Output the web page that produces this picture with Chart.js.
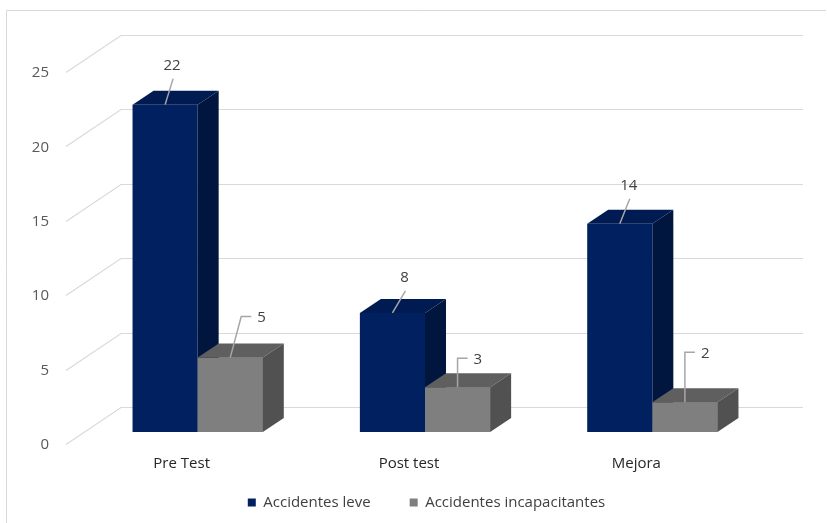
<!DOCTYPE html>
<html>
<head>
<meta charset="utf-8">
<title>Accidentes</title>
<script src="https://cdn.jsdelivr.net/npm/chart.js@4.4.1/dist/chart.umd.min.js"></script>
<style>
  html, body { margin: 0; padding: 0; background: #fff; }
  #wrap { width: 827px; height: 523px; }
</style>
</head>
<body>
<div id="wrap"><canvas id="chart"></canvas></div>
<script>
var categories = ['Pre Test', 'Post test', 'Mejora'];
var leves = [22, 8, 14];
var incapacitantes = [5, 3, 2];
var yMax = 25;
var yStep = 5;

// fake 3d: offsets of bar depth, back wall and floor front edge (px)
var depth = { barDx: 21, barDy: -14, wallDx: 37, wallDy: -25, floorDx: -18, floorDy: 12 };
var faceColors = [
    { top: '#001a52', side: '#00163f' },
    { top: '#5f5f5f', side: '#515151' }
];
// leader lines of the value labels: [dx, dy] from the bar top
var calloutLeves = [[8, 26], [13, 22], [10, 25]];
var calloutIncap = [[11, 41], [0, 29], [0, 50]];

function poly(ctx, pts, color) {
    ctx.beginPath();
    ctx.moveTo(pts[0][0], pts[0][1]);
    for (var i = 1; i < pts.length; i++) ctx.lineTo(pts[i][0], pts[i][1]);
    ctx.closePath();
    ctx.fillStyle = color;
    ctx.fill();
}

var backWall = {
    id: 'backWall',
    beforeDraw: function(chart) {
        var ctx = chart.ctx;
        ctx.save();
        ctx.strokeStyle = '#d9d9d9';
        ctx.lineWidth = 1;
        ctx.beginPath();
        ctx.moveTo(6.5, 523);
        ctx.lineTo(6.5, 10.5);
        ctx.lineTo(826, 10.5);
        ctx.stroke();
        ctx.restore();
    },
    beforeDatasetsDraw: function(chart) {
        var ctx = chart.ctx;
        var y = chart.scales.y;
        var area = chart.chartArea;
        ctx.save();
        ctx.strokeStyle = '#d9d9d9';
        ctx.lineWidth = 1.2;
        y.ticks.forEach(function(t) {
            var py = Math.round(y.getPixelForValue(t.value)) + 0.5;
            ctx.beginPath();
            ctx.moveTo(area.left + depth.floorDx, py + depth.floorDy);
            ctx.lineTo(area.left + depth.wallDx, py + depth.wallDy);
            ctx.lineTo(area.right + depth.wallDx, py + depth.wallDy);
            ctx.stroke();
        });
        ctx.restore();
    }
};

var boxes = {
    id: 'boxes',
    afterDatasetsDraw: function(chart) {
        var ctx = chart.ctx;
        ctx.save();
        chart.data.datasets.forEach(function(ds, di) {
            var meta = chart.getDatasetMeta(di);
            meta.data.forEach(function(bar) {
                var p = bar.getProps(['x', 'y', 'base', 'width'], true);
                var l = p.x - p.width / 2, r = p.x + p.width / 2;
                var dx = depth.barDx, dy = depth.barDy;
                // front of the second series goes over the side of the first
                if (di > 0) bar.draw(ctx);
                poly(ctx, [[l, p.y], [l + dx, p.y + dy], [r + dx, p.y + dy], [r, p.y]], faceColors[di].top);
                poly(ctx, [[r, p.y], [r + dx, p.y + dy], [r + dx, p.base + dy], [r, p.base]], faceColors[di].side);
            });
        });

        // value labels with leader lines
        ctx.strokeStyle = '#a6a6a6';
        ctx.lineWidth = 1.5;
        ctx.fillStyle = '#404040';
        ctx.font = '15px "Open Sans"';
        var m0 = chart.getDatasetMeta(0), m1 = chart.getDatasetMeta(1);
        m0.data.forEach(function(bar, i) {
            var c = calloutLeves[i];
            var x1 = bar.x + c[0], y1 = bar.y - c[1];
            ctx.beginPath();
            ctx.moveTo(bar.x, bar.y);
            ctx.lineTo(x1, y1);
            ctx.stroke();
            ctx.textAlign = 'center';
            ctx.textBaseline = 'middle';
            ctx.fillText(String(leves[i]), x1 - 1, y1 - 13);
        });
        m1.data.forEach(function(bar, i) {
            var c = calloutIncap[i];
            var x1 = bar.x + c[0], y1 = bar.y - c[1];
            ctx.beginPath();
            ctx.moveTo(bar.x, bar.y);
            ctx.lineTo(x1, y1);
            ctx.lineTo(x1 + 10, y1);
            ctx.stroke();
            ctx.textAlign = 'left';
            ctx.textBaseline = 'middle';
            ctx.fillText(String(incapacitantes[i]), x1 + 16, y1 + 1);
        });
        ctx.restore();
    }
};

new Chart(document.getElementById('chart'), {
    type: 'bar',
    data: {
        labels: categories,
        datasets: [{
            label: 'Accidentes leve',
            data: leves,
            backgroundColor: '#00205f',
            categoryPercentage: 0.573,
            barPercentage: 1
        }, {
            label: 'Accidentes incapacitantes',
            data: incapacitantes,
            backgroundColor: '#7f7f7f',
            categoryPercentage: 0.573,
            barPercentage: 1
        }]
    },
    options: {
        responsive: true,
        maintainAspectRatio: false,
        animation: false,
        layout: { padding: { left: 26, right: 0, top: 60, bottom: 3 } },
        scales: {
            x: {
                grid: { display: false, drawTicks: false },
                border: { display: false },
                ticks: {
                    color: '#262626',
                    font: { family: 'Open Sans', size: 15 },
                    // mirrored ticks are not clipped to the short axis box;
                    // a negative padding puts them back under the floor
                    mirror: true,
                    padding: -41,
                    labelOffset: -16
                },
                afterFit: function(s) { s.height = 24; }
            },
            y: {
                min: 0,
                max: yMax,
                grid: { display: false, drawTicks: false },
                border: { display: false },
                ticks: {
                    stepSize: yStep,
                    color: '#595959',
                    font: { family: 'Open Sans', size: 15 },
                    padding: 35,
                    labelOffset: 13
                },
                afterFit: function(s) { s.width = 58; }
            },
            // empty right-hand axis that keeps room for the back wall
            y2: {
                position: 'right',
                grid: { display: false, drawTicks: false },
                border: { display: false },
                ticks: { display: false },
                afterFit: function(s) { s.width = 61; }
            }
        },
        plugins: {
            legend: {
                position: 'bottom',
                labels: {
                    boxWidth: 8,
                    boxHeight: 8,
                    padding: 39,
                    color: '#404040',
                    font: { family: 'Open Sans', size: 15 }
                }
            },
            tooltip: { enabled: false }
        }
    },
    plugins: [backWall, boxes]
});
</script>
</body>
</html>
